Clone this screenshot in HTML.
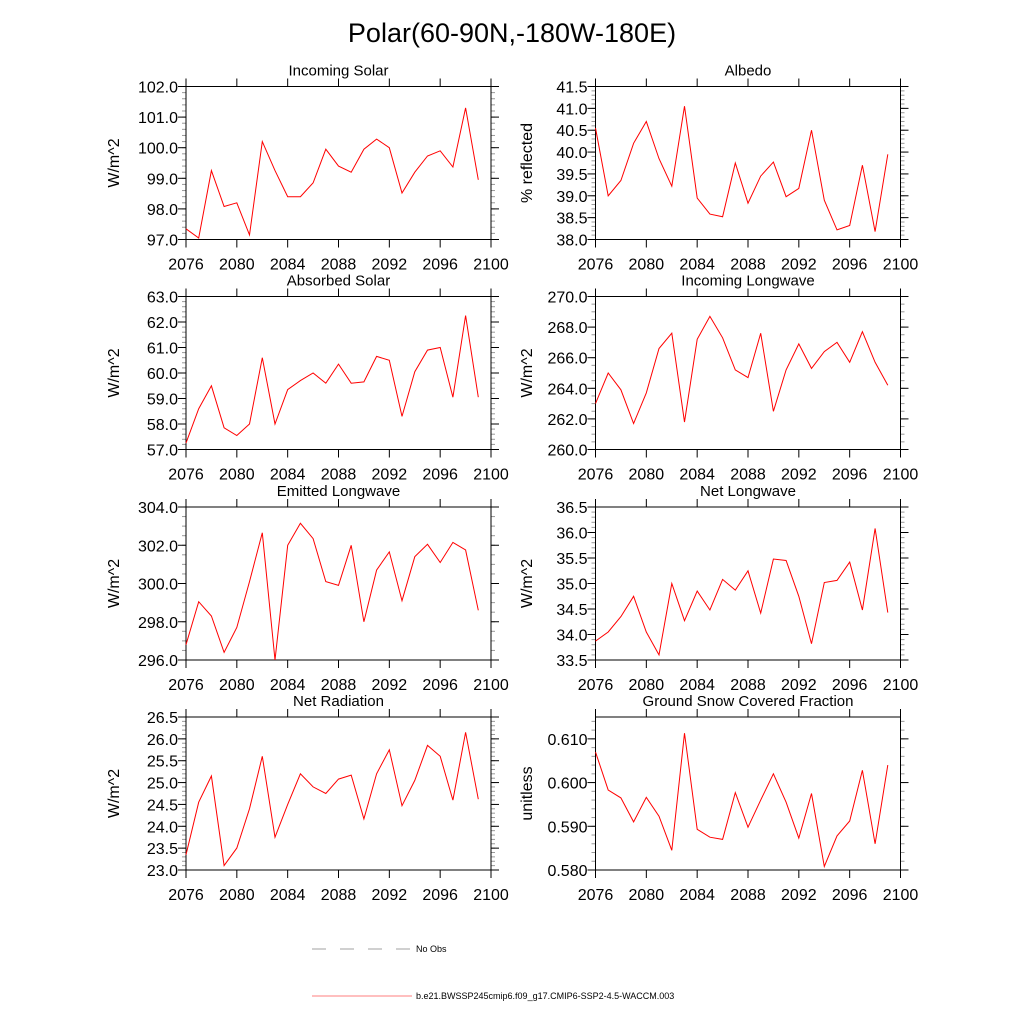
<!DOCTYPE html>
<html><head><meta charset="utf-8"><style>
html,body{margin:0;padding:0;background:#fff;}
svg{display:block;font-family:"Liberation Sans",sans-serif;}
</style></head><body>
<svg id="c" width="1024" height="1024" xmlns="http://www.w3.org/2000/svg">
<text x="512" y="42" font-size="27" text-anchor="middle">Polar(60-90N,-180W-180E)</text>
<g>
<line x1="312" y1="949" x2="412" y2="949" stroke="#444" stroke-width="0.6" stroke-dasharray="14,14"/>
<text x="416" y="952" font-size="9">No Obs</text>
<line x1="312" y1="996" x2="412" y2="996" stroke="red" stroke-width="0.6"/>
<text x="416" y="999" font-size="9">b.e21.BWSSP245cmip6.f09_g17.CMIP6-SSP2-4.5-WACCM.003</text>
</g>
</svg>
<script>
const years=[2076,2077,2078,2079,2080,2081,2082,2083,2084,2085,2086,2087,2088,2089,2090,2091,2092,2093,2094,2095,2096,2097,2098,2099];
const xTicks=[2076,2080,2084,2088,2092,2096,2100];
const incomingSolar=[97.35,97.05,99.25,98.08,98.2,97.15,100.2,99.25,98.4,98.4,98.85,99.95,99.4,99.2,99.95,100.28,100.0,98.52,99.2,99.73,99.9,99.37,101.3,98.95];
const albedo=[40.55,39.0,39.35,40.2,40.7,39.85,39.22,41.05,38.95,38.58,38.52,39.75,38.83,39.45,39.77,38.98,39.17,40.5,38.9,38.22,38.32,39.7,38.18,39.95];
const absorbedSolar=[57.25,58.6,59.5,57.85,57.55,58.0,60.6,58.0,59.35,59.7,60.0,59.6,60.35,59.6,59.65,60.65,60.5,58.3,60.05,60.9,61.0,59.05,62.25,59.05];
const incomingLW=[263.0,265.0,263.9,261.7,263.7,266.6,267.6,261.8,267.2,268.7,267.3,265.2,264.7,267.6,262.5,265.2,266.9,265.3,266.4,267.0,265.7,267.7,265.7,264.2];
const emittedLW=[296.8,299.05,298.3,296.4,297.7,300.1,302.65,296.0,302.0,303.15,302.35,300.1,299.9,302.0,298.0,300.7,301.65,299.1,301.4,302.05,301.1,302.15,301.75,298.6];
const netLW=[33.87,34.05,34.35,34.75,34.05,33.6,35.0,34.27,34.85,34.48,35.08,34.87,35.25,34.42,35.48,35.45,34.75,33.82,35.02,35.06,35.42,34.48,36.08,34.43];
const netRad=[23.35,24.55,25.15,23.1,23.5,24.4,25.6,23.75,24.5,25.2,24.9,24.75,25.08,25.17,24.17,25.2,25.75,24.47,25.05,25.85,25.6,24.6,26.15,24.62];
const snowFrac=[0.607,0.5983,0.5965,0.591,0.5966,0.5923,0.5845,0.6113,0.5893,0.5875,0.587,0.5977,0.5898,0.596,0.602,0.5955,0.5873,0.5975,0.5808,0.5878,0.5912,0.6028,0.586,0.604];
const yTicksIS=[97,98,99,100,101,102];
const yTicksAlb=[38,38.5,39,39.5,40,40.5,41,41.5];
const yTicksAS=[57,58,59,60,61,62,63];
const yTicksILW=[260,262,264,266,268,270];
const yTicksELW=[296,298,300,302,304];
const yTicksNLW=[33.5,34,34.5,35,35.5,36,36.5];
const yTicksNR=[23,23.5,24,24.5,25,25.5,26,26.5];
const yTicksSnow=[0.58,0.59,0.6,0.61];

const panels=[
 {name:'incoming-solar',title:'Incoming Solar',yl:'W/m^2',d:incomingSolar,t:yTicksIS,min:97,max:102,dec:1,minor:5,col:0,row:0},
 {name:'albedo',title:'Albedo',yl:'% reflected',d:albedo,t:yTicksAlb,min:38,max:41.5,dec:1,minor:5,col:1,row:0},
 {name:'absorbed-solar',title:'Absorbed Solar',yl:'W/m^2',d:absorbedSolar,t:yTicksAS,min:57,max:63,dec:1,minor:5,col:0,row:1},
 {name:'incoming-longwave',title:'Incoming Longwave',yl:'W/m^2',d:incomingLW,t:yTicksILW,min:260,max:270,dec:1,minor:4,col:1,row:1},
 {name:'emitted-longwave',title:'Emitted Longwave',yl:'W/m^2',d:emittedLW,t:yTicksELW,min:296,max:304,dec:1,minor:4,col:0,row:2},
 {name:'net-longwave',title:'Net Longwave',yl:'W/m^2',d:netLW,t:yTicksNLW,min:33.5,max:36.5,dec:1,minor:5,col:1,row:2},
 {name:'net-radiation',title:'Net Radiation',yl:'W/m^2',d:netRad,t:yTicksNR,min:23,max:26.5,dec:1,minor:5,col:0,row:3},
 {name:'ground-snow-fraction',title:'Ground Snow Covered Fraction',yl:'unitless',d:snowFrac,t:yTicksSnow,min:0.58,max:0.615,dec:3,minor:5,col:1,row:3}
];
const svg=document.getElementById('c');
const NS='http://www.w3.org/2000/svg';
function mk(tag,attrs,parent,txt){const e=document.createElementNS(NS,tag);for(const k in attrs)e.setAttribute(k,attrs[k]);if(txt!==undefined)e.textContent=txt;parent.appendChild(e);return e;}
const lefts=[186,595.5], widths=[305,305], tops=[86.5,296.5,507,717], H=153;
panels.forEach(p=>{
 const L=lefts[p.col],W=widths[p.col],T=tops[p.row],B=T+H;
 const g=mk('g',{},svg);
 
 
 const xs=v=>L+(v-2076)/(2100-2076)*W;
 const ys=v=>B-(v-p.min)/(p.max-p.min)*H;
 const step=p.t[1]-p.t[0];
 for(let v=p.t[0]-step;v<=p.max+1e-9;v+=step/p.minor){
  if(v<p.min-1e-9)continue;
  const y=ys(v);
  mk('line',{x1:L-4,y1:y,x2:L,y2:y,stroke:'#999','stroke-width':1},g);
  mk('line',{x1:L+W,y1:y,x2:L+W+4,y2:y,stroke:'#999','stroke-width':1},g);
 }
 p.t.forEach(v=>{
  const y=ys(v);
  mk('line',{x1:L-8,y1:y,x2:L,y2:y,stroke:'#000','stroke-width':1},g);
  mk('line',{x1:L+W,y1:y,x2:L+W+8,y2:y,stroke:'#000','stroke-width':1},g);
  const tl=mk('text',{x:L-8,y:y+6,'font-size':16,'text-anchor':'end'},g,v.toFixed(p.dec));
  
  
 });
 xTicks.forEach(v=>{
  const x=xs(v);
  mk('line',{x1:x,y1:B,x2:x,y2:B+8,stroke:'#000','stroke-width':1},g);
  mk('line',{x1:x,y1:T-8,x2:x,y2:T,stroke:'#000','stroke-width':1},g);
  const tl=mk('text',{x:x,y:B+30,'font-size':16,'text-anchor':'middle'},g,String(v));
  
  
 });
 const fr=mk('rect',{x:L,y:T,width:W,height:H,fill:'none',stroke:'#000','stroke-width':1},g);
 
 
 const tt=mk('text',{x:L+W/2,y:T-11,'font-size':15,'text-anchor':'middle'},g,p.title);
 
 
 const yx=p.col===0?119:532;
 const yt=mk('text',{x:yx,y:T+H/2,'font-size':16,'text-anchor':'middle',transform:'rotate(-90 '+yx+' '+(T+H/2)+')'},g,p.yl);
 
 
 const pts=p.d.map((v,i)=>xs(years[i]).toFixed(1)+','+ys(v).toFixed(1)).join(' ');
 const pl=mk('polyline',{points:pts,fill:'none',stroke:'red','stroke-width':1},g);
 
 
});
</script>
</body></html>
